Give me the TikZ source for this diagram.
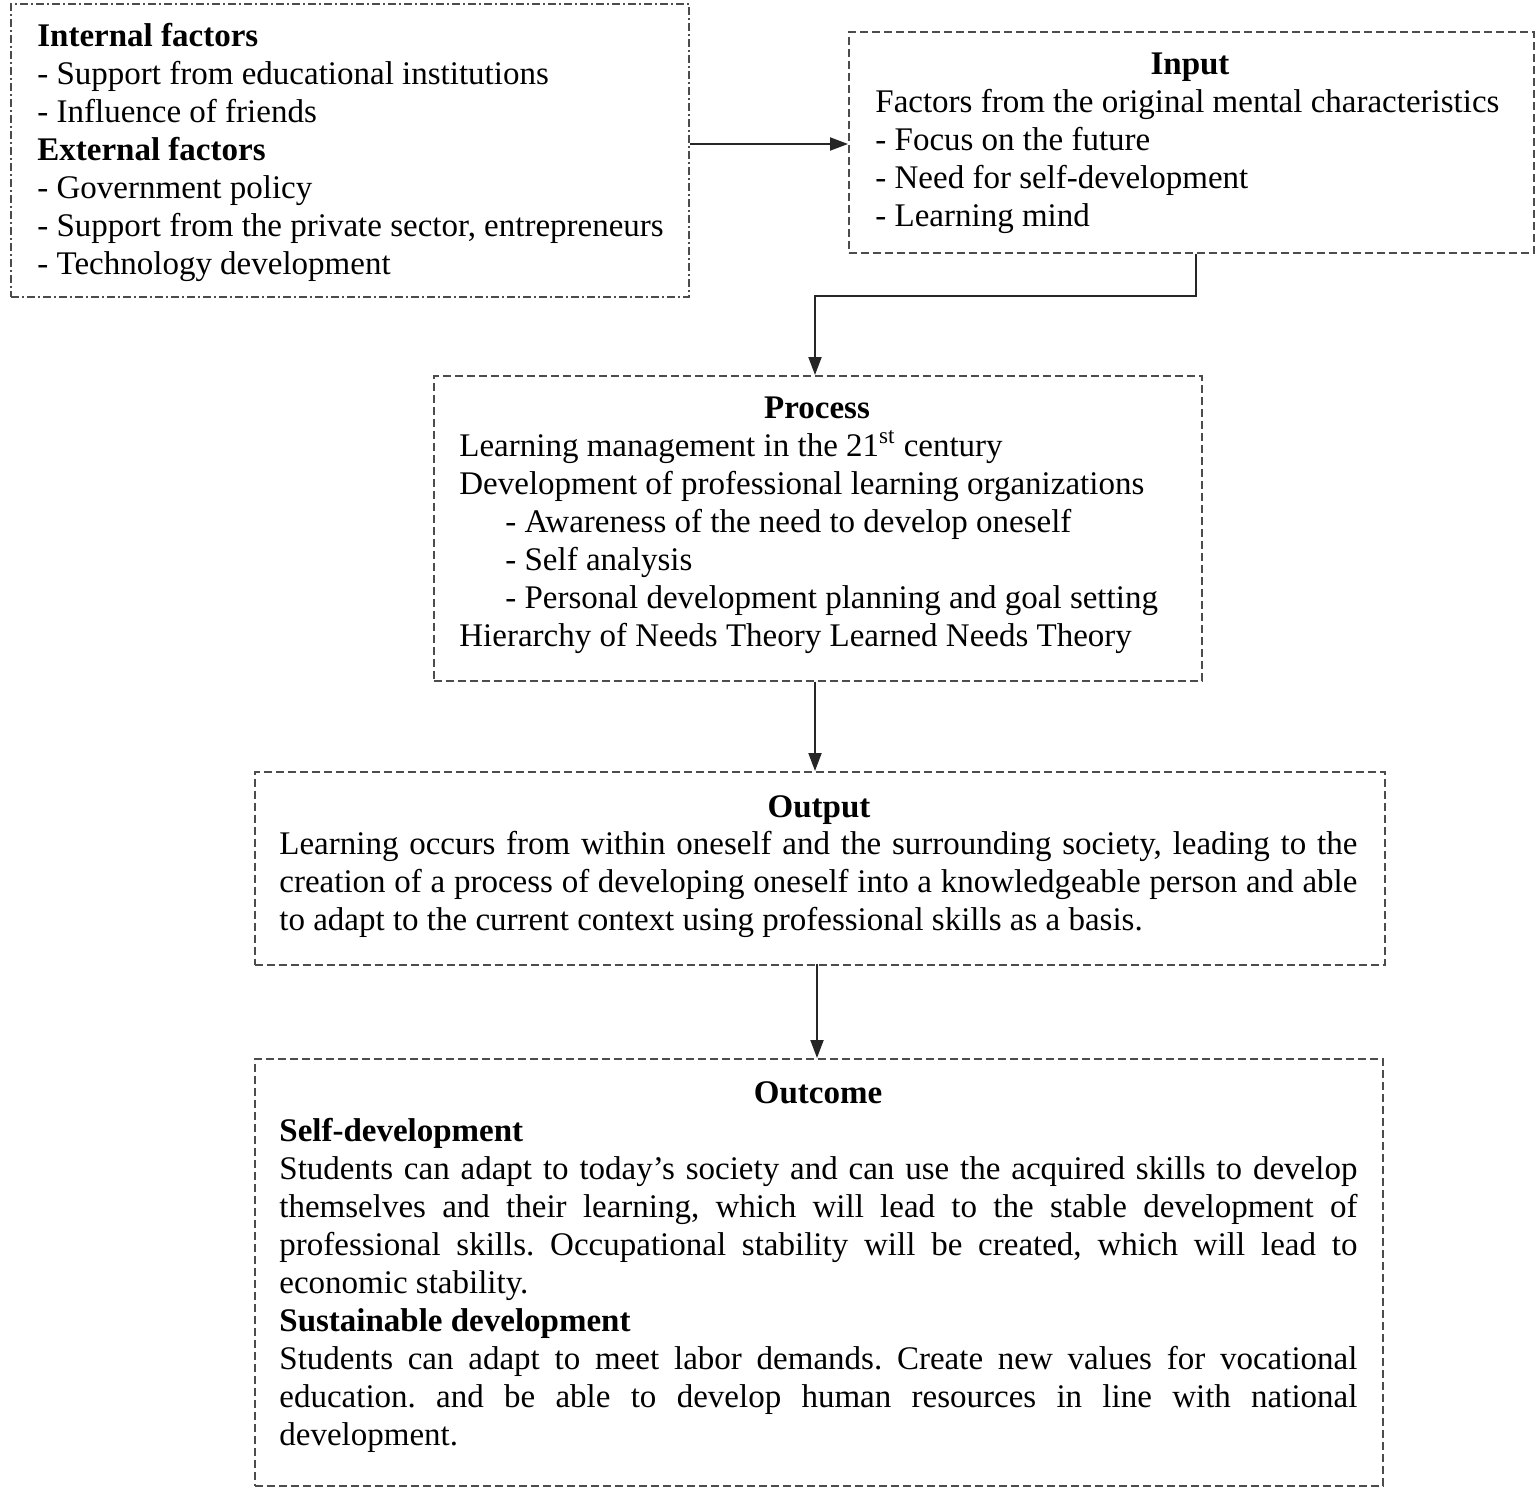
\documentclass[tikz,border=0pt]{standalone}
\usepackage{fontspec}
\setmainfont{Liberation Serif}
\usetikzlibrary{arrows.meta,calc}
\frenchspacing
\begin{document}
\begin{tikzpicture}[x=0.5pt,y=-0.5pt,
  boxbase/.style={draw=black!70, line width=0.9pt, inner sep=0pt, anchor=north west},
  dbox/.style={boxbase, dash pattern=on 4pt off 2pt},
  ddbox/.style={boxbase, dash pattern=on 4pt off 1.5pt on 1pt off 1.5pt},
  txt/.style={inner sep=0pt, anchor=north west, align=left, font=\fontsize{16.5}{19}\selectfont\frenchspacing},
  ttl/.style={inner sep=0pt, anchor=base, font=\fontsize{16.5}{19}\selectfont\bfseries},
  arr/.style={draw=black!85, line width=1pt, -{Triangle[length=9pt,width=6.5pt]}}]
\useasboundingbox (0,0) rectangle (1535,1487);

% boxes
\node[ddbox, minimum width=339pt, minimum height=146.5pt] (fac) at (10,3) {};
\node[dbox, minimum width=342.5pt, minimum height=110.5pt] (inp) at (848,31) {};
\node[dbox, minimum width=384pt, minimum height=152.5pt] (proc) at (433,375) {};
\node[dbox, minimum width=565pt, minimum height=96.5pt] (outp) at (254,771) {};
\node[dbox, minimum width=564pt, minimum height=213.5pt] (outc) at (254,1058) {};

% factors text
\node[txt] (factxt) at (37,19.4) {\strut\textbf{Internal factors}\\
- Support from educational institutions\\
- Influence of friends\\
\textbf{External factors}\\
- Government policy\\
- Support from the private sector, entrepreneurs\\
- Technology development};

% input
\node[ttl] (inpttl) at (1190,75) {Input};
\node[txt] (inptxt) at (875,85.4) {\strut Factors from the original mental characteristics\\
- Focus on the future\\
- Need for self-development\\
- Learning mind};

% process
\node[ttl] (procttl) at (817,418) {Process};
\node[txt] (proctxt) at (459,429.4) {\strut Learning management in the 21\textsuperscript{st} century\\
Development of professional learning organizations\\
\hspace*{23pt}- Awareness of the need to develop oneself\\
\hspace*{23pt}- Self analysis\\
\hspace*{23pt}- Personal development planning and goal setting\\
Hierarchy of Needs Theory Learned Needs Theory};

% output
\node[ttl] (outpttl) at (819,817) {Output};
\node[txt] (outptxt) at (279,827.4) {\strut\makebox[539pt][s]{Learning occurs from within oneself and the surrounding society, leading to the}\\
\makebox[539pt][s]{creation of a process of developing oneself into a knowledgeable person and able}\\
to adapt to the current context using professional skills as a basis.};

% outcome
\node[ttl] (outcttl) at (818,1103) {Outcome};
\node[txt] (outctxt) at (279,1114.4) {\strut\textbf{Self-development}\\
\makebox[539pt][s]{Students can adapt to today's society and can use the acquired skills to develop}\\
\makebox[539pt][s]{themselves and their learning, which will lead to the stable development of}\\
\makebox[539pt][s]{professional skills. Occupational stability will be created, which will lead to}\\
economic stability.\\
\textbf{Sustainable development}\\
\makebox[539pt][s]{Students can adapt to meet labor demands. Create new values for vocational}\\
\makebox[539pt][s]{education. and be able to develop human resources in line with national}\\
development.};

% connectors
\coordinate (a1) at (690,144);
\draw[arr] (fac.east |- a1) -- (inp.west |- a1);
\coordinate (bend) at (815,296);
\draw[arr] ($(inp.south)+(4.5,0)$) |- (bend) -- (bend |- proc.north);
\draw[arr] (proc.south -| bend) -- (bend |- outp.north);
\coordinate (bend2) at (817,964);
\draw[arr] (bend2) -- (bend2 |- outc.north);
\end{tikzpicture}
\end{document}
